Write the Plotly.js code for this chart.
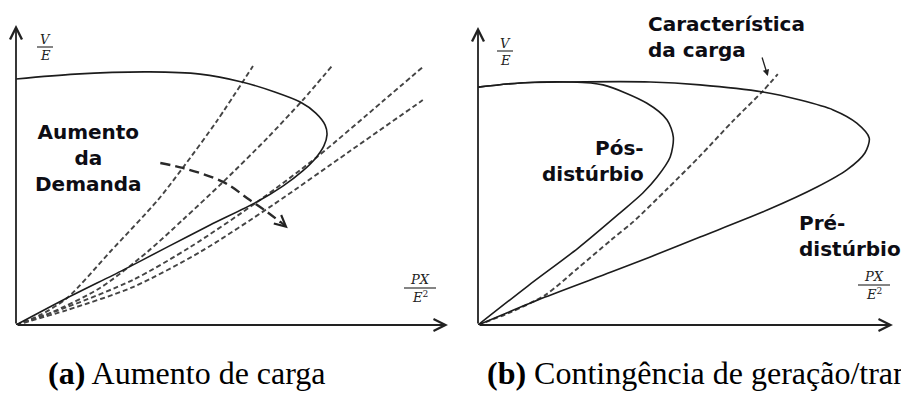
<!DOCTYPE html>
<html>
<head>
<meta charset="utf-8">
<script src="https://cdn.plot.ly/plotly-3.0.1.min.js"></script>
<style>
  html, body { margin: 0; padding: 0; background: #fff; }
  #chart { width: 901px; height: 394px; }
</style>
</head>
<body>
<div id="chart"></div>
<script>
// (a) aumento de carga: curva PV e características de carga
const noseAX = [0.000, 0.095, 0.215, 0.296, 0.363, 0.416, 0.457, 0.482, 0.497, 0.500, 0.495, 0.482, 0.461, 0.429, 0.387, 0.312, 0.243, 0.172, 0.082, 0.000];
const noseAY = [1.004, 1.024, 1.033, 1.024, 0.992, 0.951, 0.910, 0.865, 0.816, 0.776, 0.731, 0.682, 0.629, 0.567, 0.502, 0.408, 0.318, 0.224, 0.110, 0.000];

const load1X = [0, 0.039, 0.082, 0.151, 0.228, 0.268, 0.323, 0.381];
const load1Y = [0, 0.041, 0.110, 0.298, 0.510, 0.641, 0.833, 1.057];
const load2X = [0, 0.055, 0.135, 0.211, 0.268, 0.333, 0.404, 0.461, 0.508];
const load2Y = [0, 0.049, 0.151, 0.298, 0.429, 0.584, 0.763, 0.918, 1.057];
const load3X = [0, 0.082, 0.188, 0.280, 0.392, 0.484, 0.590, 0.654];
const load3Y = [0, 0.073, 0.184, 0.318, 0.510, 0.686, 0.914, 1.053];
const load4X = [0, 0.082, 0.188, 0.296, 0.413, 0.537, 0.654];
const load4Y = [0, 0.061, 0.155, 0.298, 0.490, 0.710, 0.918];

// seta tracejada "Aumento da Demanda"
const demandX = [0.232, 0.268, 0.333, 0.376, 0.404, 0.426];
const demandY = [0.661, 0.641, 0.584, 0.510, 0.461, 0.418];

// (b) contingência: curvas pré e pós-distúrbio
const preX = [0, 0.068, 0.148, 0.277, 0.357, 0.458, 0.518, 0.571, 0.609, 0.629, 0.622, 0.593, 0.545, 0.465, 0.357, 0.277, 0.214, 0.108, 0];
const preY = [0.971, 0.988, 0.992, 0.992, 0.980, 0.951, 0.918, 0.878, 0.824, 0.763, 0.702, 0.633, 0.563, 0.469, 0.359, 0.278, 0.216, 0.114, 0];
const postX = [0, 0.068, 0.148, 0.201, 0.271, 0.304, 0.314, 0.309, 0.288, 0.265, 0.228, 0.161, 0.080, 0];
const postY = [0.971, 0.988, 0.992, 0.980, 0.906, 0.837, 0.767, 0.686, 0.604, 0.539, 0.457, 0.314, 0.159, 0];
const loadBX = [0, 0.053, 0.108, 0.161, 0.214, 0.249, 0.304, 0.357, 0.410, 0.458, 0.482];
const loadBY = [0, 0.053, 0.122, 0.233, 0.347, 0.420, 0.555, 0.690, 0.833, 0.955, 1.024];

const captionA = '<b>(a)</b> Aumento de carga';
const captionB = '<b>(b)</b> Contingência de geração/transmissão';

const W = 901, H = 394;
const px = v => v / W;
const py = v => 1 - v / H;

const solid = { color: '#1c1c1c', width: 1.6, shape: 'spline', smoothing: 0.8 };
const dotted = { color: '#444', width: 1.9, dash: '5px,3px', shape: 'spline', smoothing: 0.8 };

const line = (x, y, style, axis) => ({
  x, y, type: 'scatter', mode: 'lines', line: style, hoverinfo: 'skip',
  xaxis: axis === 2 ? 'x2' : 'x', yaxis: axis === 2 ? 'y2' : 'y',
});

const traces = [
  line(load1X, load1Y, dotted, 1),
  line(load2X, load2Y, dotted, 1),
  line(load3X, load3Y, dotted, 1),
  line(load4X, load4Y, dotted, 1),
  line(noseAX, noseAY, solid, 1),
  line(demandX, demandY, { color: '#2a2a2a', width: 2.4, dash: '10px,5px', shape: 'spline' }, 1),
  line(loadBX, loadBY, dotted, 2),
  line(preX, preY, solid, 2),
  line(postX, postY, solid, 2),
];

const axisArrow = (xr, yr, x, y) => ({
  xref: xr, yref: yr, axref: xr, ayref: yr, x, y, ax: 0, ay: 0, text: '',
  showarrow: true, arrowhead: 5, arrowsize: 1.3, arrowwidth: 1.8, arrowcolor: '#222',
});

const label = (text, x, y, anchor, align) => ({
  xref: 'paper', yref: 'paper', x: px(x), y: py(y), text, showarrow: false,
  xanchor: anchor, yanchor: 'middle', align,
  font: { family: 'DejaVu Sans, sans-serif', size: 20, color: '#0d0d14', weight: 'bold' },
});

const math = (text, x, y) => ({
  xref: 'paper', yref: 'paper', x: px(x), y: py(y), text, showarrow: false,
  xanchor: 'center', yanchor: 'middle',
  font: { family: 'DejaVu Serif, serif', size: 13, color: '#222' },
});

const caption = (text, x) => ({
  xref: 'paper', yref: 'paper', x: px(x), y: py(373), text, showarrow: false,
  xanchor: 'left', yanchor: 'middle',
  font: { family: 'Liberation Serif, Times New Roman, serif', size: 32, color: '#000' },
});

const annotations = [
  axisArrow('x', 'y', 432 / 622, 0),
  axisArrow('x', 'y', 0, 300 / 245),
  axisArrow('x2', 'y2', 415 / 622, 0),
  axisArrow('x2', 'y2', 0, 298 / 245),
  { xref: 'x', yref: 'y', axref: 'x', ayref: 'y', x: 0.437, y: 0.395, ax: 0.422, ay: 0.428, text: '',
    showarrow: true, arrowhead: 5, arrowsize: 1.1, arrowwidth: 2, arrowcolor: '#222' },
  { xref: 'x2', yref: 'y2', axref: 'x2', ayref: 'y2', x: 0.466, y: 1.016, ax: 0.456, ay: 1.098, text: '',
    showarrow: true, arrowhead: 2, arrowsize: 1, arrowwidth: 1.3, arrowcolor: '#222' },
  label('Aumento<br>da<br>Demanda', 88, 158, 'center', 'center'),
  label('Característica<br>da carga', 646, 37, 'left', 'left'),
  label('Pós-<br>distúrbio', 646, 161, 'right', 'right'),
  label('Pré-<br>distúrbio', 797, 236, 'left', 'left'),
  math('<i>V</i>', 45, 39), math('<i>E</i>', 45, 56),
  math('<i>V</i>', 505, 43), math('<i>E</i>', 505, 61),
  math('<i>PX</i>', 420, 279), math('<i>E</i><sup>2</sup>', 420, 297),
  math('<i>PX</i>', 874, 276), math('<i>E</i><sup>2</sup>', 874, 294),
  caption(captionA, 46),
  caption(captionB, 485),
];

const bar = (x0, x1, y) => ({
  type: 'line', xref: 'paper', yref: 'paper', x0: px(x0), x1: px(x1), y0: py(y), y1: py(y),
  line: { color: '#333', width: 1.2 },
});

const hidden = { showgrid: false, zeroline: false, showticklabels: false, showline: false, ticks: '', fixedrange: true };

const layout = {
  width: W, height: H,
  margin: { l: 0, r: 0, t: 0, b: 0 },
  paper_bgcolor: '#fff', plot_bgcolor: 'rgba(0,0,0,0)',
  showlegend: false,
  xaxis: { ...hidden, domain: [px(16), px(448)], range: [0, 432 / 622], anchor: 'y' },
  yaxis: { ...hidden, domain: [py(325), py(25)], range: [0, 300 / 245], anchor: 'x' },
  xaxis2: { ...hidden, domain: [px(478), px(893)], range: [0, 415 / 622], anchor: 'y2' },
  yaxis2: { ...hidden, domain: [py(325), py(25)], range: [0, 300 / 245], anchor: 'x2' },
  shapes: [bar(37, 53, 47), bar(497, 513, 51), bar(404, 436, 288), bar(858, 890, 285)],
  annotations,
};

Plotly.newPlot('chart', traces, layout, { displayModeBar: false, staticPlot: true });
</script>
</body>
</html>
